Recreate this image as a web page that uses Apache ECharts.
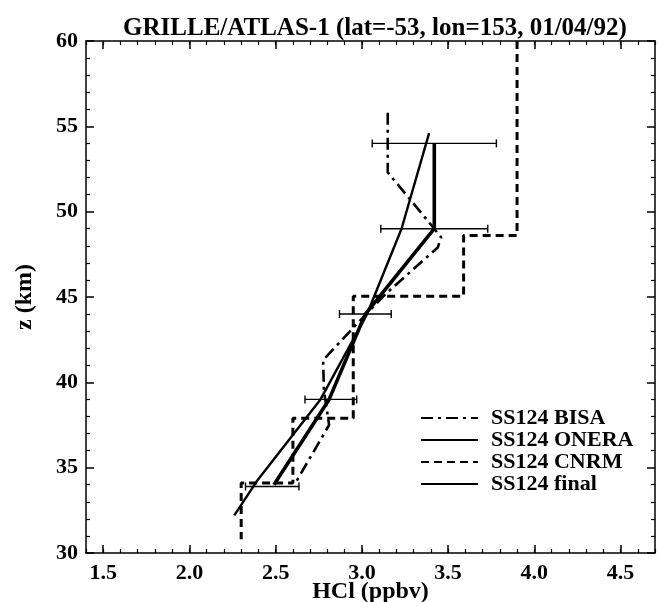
<!DOCTYPE html>
<html>
<head>
<meta charset="utf-8">
<script src="https://cdn.jsdelivr.net/npm/echarts@6/dist/echarts.min.js"></script>
<style>html,body{margin:0;padding:0;background:#fff;}#c{width:658px;height:602px;}</style>
</head>
<body>
<div id="c"></div>
<script>
// ---- data (x = HCl ppbv, z = km) ----
const bisaX  = [3.15, 3.15, 3.42, 3.46, 3.44, 3.14, 2.95, 2.775, 2.78, 2.81, 2.62];
const bisaZ  = [55.8, 52.3, 49.0, 48.5, 47.9, 45.2, 43.2, 41.3, 39.5, 37.5, 34.2];
const oneraX = [3.39, 3.23, 3.03, 2.76, 2.39, 2.26];
const oneraZ = [54.6, 49.0, 44.0, 39.0, 34.2, 32.2];
const cnrmX  = [3.9, 3.9, 3.59, 3.59, 2.95, 2.95, 2.6, 2.6, 2.3, 2.3];
const cnrmZ  = [60.0, 48.6, 48.6, 45.05, 45.05, 37.9, 37.9, 34.1, 34.1, 30.8];
const finalX = [2.49, 2.81, 3.02, 3.42, 3.42];
const finalZ = [34.0, 39.0, 44.0, 49.0, 54.0];
const errZ    = [54.0, 49.0, 44.0, 39.0, 33.9];
const errX    = [3.42, 3.42, 3.02, 2.82, 2.48];
const errHalf = [0.36, 0.31, 0.15, 0.15, 0.155];
const xTickLabels = [1.5, 2.0, 2.5, 3.0, 3.5, 4.0, 4.5];
const yTickLabels = [30, 35, 40, 45, 50, 55, 60];
const seriesNames = ['SS124 BISA', 'SS124 ONERA', 'SS124 CNRM', 'SS124 final'];

const pairs = (xs, zs) => xs.map((x, i) => [x, zs[i]]);
const xMinor = [];
for (let i = 14; i <= 47; i++) xMinor.push(i / 10);

const FONT = '"Liberation Serif", "DejaVu Serif", serif';
const axisLine = { show: true, lineStyle: { color: '#000', width: 1.5 } };
const noSym = { color: 'rgba(0,0,0,0)', borderWidth: 0 };

const chart = echarts.init(document.getElementById('c'));
chart.setOption({
  animation: false,
  backgroundColor: '#fff',
  title: {
    text: 'GRILLE/ATLAS-1 (lat=-53, lon=153, 01/04/92)',
    left: 370, top: 11, textAlign: 'center',
    textStyle: { fontFamily: FONT, fontWeight: 'bold', fontSize: 25, color: '#000' }
  },
  legend: {
    data: seriesNames,
    orient: 'vertical',
    left: 420, top: 407, padding: 0,
    itemWidth: 57, itemHeight: 14, itemGap: 0,
    itemStyle: { opacity: 0 },
    textStyle: { fontFamily: FONT, fontWeight: 'bold', fontSize: 22, color: '#000', padding: [0, 0, 0, 8] }
  },
  grid: { left: 86, right: 3, top: 41, bottom: 49, outerBoundsMode: 'none', containLabel: false },
  xAxis: [
    {
      type: 'value', min: 1.4, max: 4.7, position: 'bottom',
      name: 'HCl (ppbv)', nameLocation: 'middle', nameGap: 27, nameMoveOverlap: false,
      nameTextStyle: { fontFamily: FONT, fontWeight: 'bold', fontSize: 24, color: '#000', verticalAlign: 'top' },
      axisLine: axisLine, splitLine: { show: false },
      axisTick: { show: true, inside: true, length: 8, customValues: xTickLabels, lineStyle: { color: '#000', width: 1.5 } },
      axisLabel: { customValues: xTickLabels, formatter: v => v.toFixed(1), margin: 9,
        fontFamily: FONT, fontWeight: 'bold', fontSize: 22, color: '#000' }
    },
    {
      type: 'value', min: 1.4, max: 4.7, position: 'top',
      axisLine: axisLine, splitLine: { show: false }, axisLabel: { show: false },
      axisTick: { show: true, inside: true, length: 8, customValues: xTickLabels, lineStyle: { color: '#000', width: 1.5 } }
    },
    {
      type: 'value', min: 1.4, max: 4.7, position: 'bottom',
      axisLine: { show: false }, splitLine: { show: false }, axisLabel: { show: false },
      axisTick: { show: true, inside: true, length: 4, customValues: xMinor, lineStyle: { color: '#000', width: 1.2 } }
    },
    {
      type: 'value', min: 1.4, max: 4.7, position: 'top',
      axisLine: { show: false }, splitLine: { show: false }, axisLabel: { show: false },
      axisTick: { show: true, inside: true, length: 4, customValues: xMinor, lineStyle: { color: '#000', width: 1.2 } }
    }
  ],
  yAxis: [
    {
      type: 'value', min: 30, max: 60, interval: 5, position: 'left',
      name: 'z (km)', nameLocation: 'middle', nameGap: 49, nameRotate: 90, nameMoveOverlap: false,
      nameTextStyle: { fontFamily: FONT, fontWeight: 'bold', fontSize: 24, color: '#000' },
      axisLine: axisLine, splitLine: { show: false },
      axisTick: { show: true, inside: true, length: 8, lineStyle: { color: '#000', width: 1.5 } },
      minorTick: { show: true, splitNumber: 5, length: 4, lineStyle: { color: '#000', width: 1.2 } },
      axisLabel: { customValues: yTickLabels, margin: 8, fontFamily: FONT, fontWeight: 'bold', fontSize: 22, color: '#000' }
    },
    {
      type: 'value', min: 30, max: 60, interval: 5, position: 'right',
      axisLine: axisLine, splitLine: { show: false }, axisLabel: { show: false },
      axisTick: { show: true, inside: true, length: 8, lineStyle: { color: '#000', width: 1.5 } },
      minorTick: { show: true, splitNumber: 5, length: 4, lineStyle: { color: '#000', width: 1.2 } }
    }
  ],
  series: [
    {
      name: 'SS124 BISA', type: 'line', symbol: 'none', data: pairs(bisaX, bisaZ),
      lineStyle: { color: '#000', width: 2.6, type: [12, 5, 3, 5] }, itemStyle: noSym, z: 3
    },
    {
      name: 'SS124 ONERA', type: 'line', symbol: 'none', data: pairs(oneraX, oneraZ),
      lineStyle: { color: '#000', width: 2.4, type: 'solid' }, itemStyle: noSym, z: 3
    },
    {
      name: 'SS124 CNRM', type: 'line', symbol: 'none', data: pairs(cnrmX, cnrmZ),
      lineStyle: { color: '#000', width: 3, type: [8, 5] }, itemStyle: noSym, z: 3
    },
    {
      name: 'SS124 final', type: 'line', symbol: 'none', data: pairs(finalX, finalZ),
      lineStyle: { color: '#000', width: 3.6, type: 'solid' }, itemStyle: noSym, z: 4
    },
    {
      name: 'errors', type: 'custom',
      data: errZ.map((z, i) => [errX[i] - errHalf[i], errX[i] + errHalf[i], z]),
      encode: { x: [0, 1], y: 2 },
      renderItem: function (params, api) {
        const a = api.coord([api.value(0), api.value(2)]);
        const b = api.coord([api.value(1), api.value(2)]);
        const h = 4;
        const st = { stroke: '#000', lineWidth: 1.4 };
        return {
          type: 'group',
          children: [
            { type: 'line', shape: { x1: a[0], y1: a[1], x2: b[0], y2: b[1] }, style: st },
            { type: 'line', shape: { x1: a[0], y1: a[1] - h, x2: a[0], y2: a[1] + h }, style: st },
            { type: 'line', shape: { x1: b[0], y1: b[1] - h, x2: b[0], y2: b[1] + h }, style: st }
          ]
        };
      },
      z: 5
    }
  ]
});
</script>
</body>
</html>
